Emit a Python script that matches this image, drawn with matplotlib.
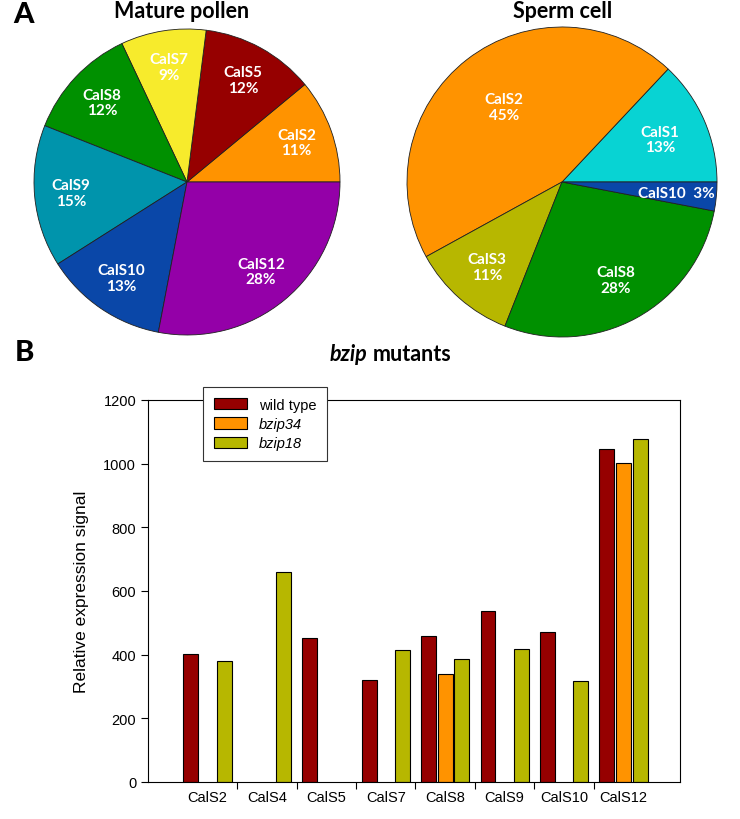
import numpy as np
import matplotlib
matplotlib.use("Agg")
import matplotlib.pyplot as plt

# pie data (percent), counter-clockwise from 3 o'clock
pollen_names = ["CalS2", "CalS5", "CalS7", "CalS8", "CalS9", "CalS10", "CalS12"]
pollen_pct = [11, 12, 9, 12, 15, 13, 28]
pollen_colors = ["#FF9300", "#960000", "#F7EB2C", "#009000", "#0094AC", "#0A47A8", "#9400A8"]

sperm_names = ["CalS1", "CalS2", "CalS3", "CalS8", "CalS10"]
sperm_pct = [13, 45, 11, 28, 3]
sperm_colors = ["#08D3D3", "#FF9300", "#B7B700", "#009000", "#0A47A8"]

# bar data
genes = ["CalS2", "CalS4", "CalS5", "CalS7", "CalS8", "CalS9", "CalS10", "CalS12"]
wild_type = [402, np.nan, 453, 320, 459, 536, 470, 1045]
bzip34 = [np.nan, np.nan, np.nan, np.nan, 339, np.nan, np.nan, 1003]
bzip18 = [380, 660, np.nan, 416, 385, 419, 318, 1078]

W, H = 740, 820
fig = plt.figure(figsize=(W / 100, H / 100), dpi=100)

gothic = "Lato"
arial = "Liberation Sans"


def px_axes(cx, cy, half):
    return fig.add_axes([(cx - half) / W, 1 - (cy + half) / H, 2 * half / W, 2 * half / H])


def draw_pie(ax, names, pct, colors, dists, one_line=()):
    wedges, _ = ax.pie(pct, colors=colors, startangle=0, counterclock=True,
                       wedgeprops=dict(edgecolor="#202020", linewidth=0.6))
    for w, name, p, d in zip(wedges, names, pct, dists):
        ang = np.deg2rad((w.theta1 + w.theta2) / 2)
        txt = f"{name}  {p}%" if name in one_line else f"{name}\n{p}%"
        ax.text(d * np.cos(ang), d * np.sin(ang), txt, ha="center", va="center",
                color="white", fontsize=11, fontweight="bold", family=gothic,
                linespacing=1.15)
    ax.set_xlim(-1.02, 1.02)
    ax.set_ylim(-1.02, 1.02)


ax1 = px_axes(187, 183, 153 * 1.02)
draw_pie(ax1, pollen_names, pollen_pct, pollen_colors, [0.76] * 7)

ax2 = px_axes(562, 183, 155 * 1.02)
draw_pie(ax2, sperm_names, sperm_pct, sperm_colors, [0.69, 0.61, 0.73, 0.72, 0.74],
         one_line=("CalS10",))

fig.text(182 / W, 1 - 11 / H, "Mature pollen", ha="center", va="center",
         fontsize=15.5, fontweight="bold", family=gothic)
fig.text(563 / W, 1 - 11 / H, "Sperm cell", ha="center", va="center",
         fontsize=15.5, fontweight="bold", family=gothic)
fig.text(24 / W, 1 - 15 / H, "A", ha="center", va="center",
         fontsize=21, fontweight="black", family=gothic)
fig.text(24 / W, 1 - 353 / H, "B", ha="center", va="center",
         fontsize=21, fontweight="black", family=gothic)
fig.text(367 / W, 1 - 355 / H, "bzip", ha="right", va="center",
         fontsize=15.5, fontweight="bold", style="italic", family=gothic)
fig.text(373 / W, 1 - 355 / H, "mutants", ha="left", va="center",
         fontsize=15.5, fontweight="bold", family=gothic)

# bar chart
ax3 = fig.add_axes([148 / W, 1 - 783 / H, 532 / W, 382 / H])
x = np.arange(len(genes))
bw = 0.25
off = 0.28
ax3.bar(x - off, wild_type, bw, color="#960000", edgecolor="black", linewidth=0.8, label="wild type")
ax3.bar(x, bzip34, bw, color="#FF9300", edgecolor="black", linewidth=0.8, label="bzip34")
ax3.bar(x + off, bzip18, bw, color="#B7B700", edgecolor="black", linewidth=0.8, label="bzip18")

ax3.set_xlim(-1.0, 7.95)
ax3.set_ylim(0, 1200)
ax3.set_yticks(np.arange(0, 1201, 200))
ax3.set_xticks(x)
ax3.set_xticklabels(genes)
ax3.set_xticks(np.arange(0.5, 7, 1), minor=True)
ax3.tick_params(axis="x", which="major", length=0, pad=6, labelsize=10.5)
ax3.tick_params(axis="x", which="minor", length=5, width=0.8, direction="out")
ax3.tick_params(axis="y", length=5, width=0.8, direction="out", labelsize=10.5)
for lab in ax3.get_xticklabels() + ax3.get_yticklabels():
    lab.set_family(arial)
for s in ax3.spines.values():
    s.set_linewidth(0.8)
ax3.set_ylabel("Relative expression signal", fontsize=12.5, family=arial, labelpad=10)

leg = ax3.legend(loc="upper left", bbox_to_anchor=(0.103, 1.034), borderaxespad=0,
                 frameon=True, fancybox=False, edgecolor="#333333", framealpha=1,
                 handlelength=2.3, handleheight=0.8, labelspacing=0.35,
                 borderpad=0.75, handletextpad=0.8,
                 prop=dict(family=arial, size=10.5))
leg.get_frame().set_linewidth(0.8)
for t in leg.get_texts()[1:]:
    t.set_style("italic")
leg.set_zorder(5)

fig.savefig("out.png", dpi=100)
